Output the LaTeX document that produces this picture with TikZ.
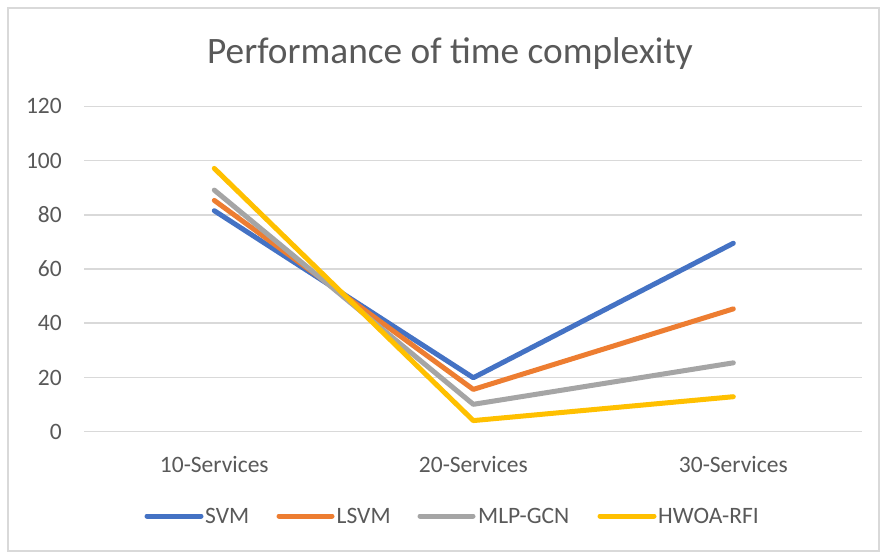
\documentclass[tikz,border=0pt]{standalone}
\usepackage{fontspec}
\setmainfont{Carlito}
\definecolor{txt}{HTML}{595959}
\definecolor{grid}{HTML}{D9D9D9}
\definecolor{svm}{HTML}{4472C4}
\definecolor{lsvm}{HTML}{ED7D31}
\definecolor{mlp}{HTML}{A5A5A5}
\definecolor{hwoa}{HTML}{FFC000}
\newcommand\py[1]{431.7-2.7115*#1}
\tikzset{
  gridline/.style={draw=grid, line width=1.5pt},
  series/.style={line width=5pt, line cap=round, line join=round},
  ticklabel/.style={anchor=east, inner sep=0pt, text=txt, font=\fontsize{23.5}{26}\selectfont},
  catlabel/.style={anchor=center, inner sep=0pt, text=txt, font=\fontsize{23.5}{26}\selectfont},
  legtext/.style={anchor=west, inner sep=0pt, text=txt, font=\fontsize{23.5}{26}\selectfont},
}
\begin{document}
\begin{tikzpicture}[x=1pt, y=-1pt]
\useasboundingbox (0,0) rectangle (881,552);
\fill[white] (0,0) rectangle (881,552);
\draw[draw=grid, line width=2pt] (8,8) rectangle (879,551);
% title
\node[anchor=base, inner sep=0pt, text=txt, font=\fontsize{37.3}{40}\selectfont] (title) at (450,63) {Performance of time complexity};
% gridlines and tick labels
\foreach \v in {0,20,...,120}{
  \coordinate (gl\v) at (84,{\py{\v}});
  \coordinate (gr\v) at (862,{\py{\v}});
  \draw[gridline] (gl\v) -- (gr\v);
  \node[ticklabel] (t\v) at (62,{\py{\v}}) {\v};
}
% category labels
\node[catlabel] (c10) at (214.3,464) {10-Services};
\node[catlabel] (c20) at (473.3,464) {20-Services};
\node[catlabel] (c30) at (733.3,464) {30-Services};
% data points
\coordinate (s1) at (214.3,{\py{81.5}});
\coordinate (s2) at (473.3,{\py{19.9}});
\coordinate (s3) at (733.3,{\py{69.5}});
\coordinate (l1) at (214.3,{\py{85.3}});
\coordinate (l2) at (473.3,{\py{15.6}});
\coordinate (l3) at (733.3,{\py{45.3}});
\coordinate (m1) at (214.3,{\py{89.1}});
\coordinate (m2) at (473.3,{\py{10.1}});
\coordinate (m3) at (733.3,{\py{25.4}});
\coordinate (h1) at (214.3,{\py{97.1}});
\coordinate (h2) at (473.3,{\py{4.1}});
\coordinate (h3) at (733.3,{\py{12.9}});
\draw[series, svm] (s1) -- (s2) -- (s3);
\draw[series, lsvm] (l1) -- (l2) -- (l3);
\draw[series, mlp] (m1) -- (m2) -- (m3);
\draw[series, hwoa] (h1) -- (h2) -- (h3);
% legend
\coordinate (la1) at (147,516); \coordinate (lb1) at (201,516);
\coordinate (la2) at (279,516); \coordinate (lb2) at (332,516);
\coordinate (la3) at (420,516); \coordinate (lb3) at (473,516);
\coordinate (la4) at (600,516); \coordinate (lb4) at (654,516);
\draw[series, svm] (la1) -- (lb1);
\draw[series, lsvm] (la2) -- (lb2);
\draw[series, mlp] (la3) -- (lb3);
\draw[series, hwoa] (la4) -- (lb4);
\node[legtext] (n1) at (205,516) {SVM};
\node[legtext] (n2) at (336.5,516) {LSVM};
\node[legtext] (n3) at (478,516) {MLP-GCN};
\node[legtext] (n4) at (658,516) {HWOA-RFI};
\end{tikzpicture}
\end{document}
